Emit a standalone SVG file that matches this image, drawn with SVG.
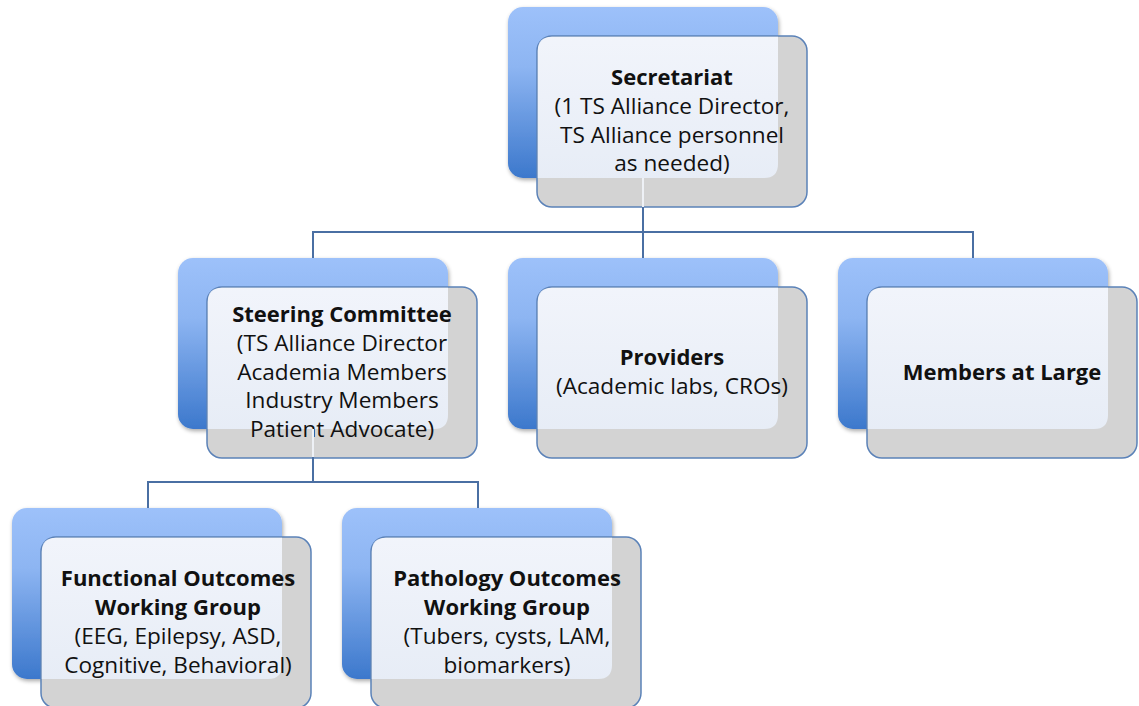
<svg xmlns="http://www.w3.org/2000/svg" width="1139" height="706" viewBox="0 0 1139 706">
<defs>
<linearGradient id="gBack" x1="0" y1="0" x2="0" y2="1">
<stop offset="0" stop-color="#9dc1fa"/>
<stop offset="0.35" stop-color="#8db5f2"/>
<stop offset="1" stop-color="#3c78cc"/>
</linearGradient>
<linearGradient id="gLight" x1="0" y1="0" x2="0" y2="1">
<stop offset="0" stop-color="#f3f6fd"/>
<stop offset="1" stop-color="#e8eef8"/>
</linearGradient>
<filter id="sh" x="-10%" y="-10%" width="130%" height="130%">
<feGaussianBlur in="SourceAlpha" stdDeviation="2"/>
<feOffset dx="1" dy="2"/>
<feComponentTransfer><feFuncA type="linear" slope="0.35"/></feComponentTransfer>
<feMerge><feMergeNode/><feMergeNode in="SourceGraphic"/></feMerge>
</filter>
<g id="box">
<rect x="0" y="0" width="270" height="171" rx="15" fill="url(#gBack)" filter="url(#sh)"/>
<rect x="29" y="29" width="270" height="171" rx="15" fill="#d3d3d3" stroke="#5b82b8" stroke-width="1.5"/>
<path d="M29.8,44 Q29.8,29.8 44,29.8 H270 V157 Q270,171 256,171 H29.8 Z" fill="url(#gLight)" opacity="0.95"/>
</g>
</defs>
<style>
text{font-family:"Open Sans","Liberation Sans",sans-serif;font-size:22.6px;fill:#111;text-anchor:middle}
.b{font-weight:bold;font-size:22px}
.ln{stroke:#4a6fa3;stroke-width:2;fill:none}
.lt{stroke:#eef1f6;stroke-width:2;fill:none}
</style>
<g id="n-secretariat">
<use href="#box" transform="translate(508,7)"/>
<text x="672" y="85" class="b">Secretariat</text>
<text x="672" y="114">(1 TS Alliance Director,</text>
<text x="672" y="143">TS Alliance personnel</text>
<text x="672" y="171">as needed)</text>
</g>
<g id="n-steering">
<use href="#box" transform="translate(178,258)"/>
<text x="342" y="322" class="b">Steering Committee</text>
<text x="342" y="351">(TS Alliance Director</text>
<text x="342" y="380">Academia Members</text>
<text x="342" y="408">Industry Members</text>
<text x="342" y="437">Patient Advocate)</text>
</g>
<g id="n-providers">
<use href="#box" transform="translate(508,258)"/>
<text x="672" y="365" class="b">Providers</text>
<text x="672" y="394">(Academic labs, CROs)</text>
</g>
<g id="n-members">
<use href="#box" transform="translate(838,258)"/>
<text x="1002" y="380" class="b">Members at Large</text>
</g>
<g id="n-functional">
<use href="#box" transform="translate(12,508)"/>
<text x="178" y="586" class="b">Functional Outcomes</text>
<text x="178" y="615" class="b">Working Group</text>
<text x="178" y="644">(EEG, Epilepsy, ASD,</text>
<text x="178" y="673">Cognitive, Behavioral)</text>
</g>
<g id="n-pathology">
<use href="#box" transform="translate(342,508)"/>
<text x="507" y="586" class="b">Pathology Outcomes</text>
<text x="507" y="615" class="b">Working Group</text>
<text x="507" y="644">(Tubers, cysts, LAM,</text>
<text x="507" y="673">biomarkers)</text>
</g>
<g id="connectors">
<path class="lt" d="M643,178 V207"/>
<path class="ln" d="M643,207 V258 M313,258 V232 H973 V258"/>
<path class="lt" d="M313,429 V457"/>
<path class="ln" d="M313,457 V482 M148,508 V482 H478 V508"/>
</g>
</svg>
